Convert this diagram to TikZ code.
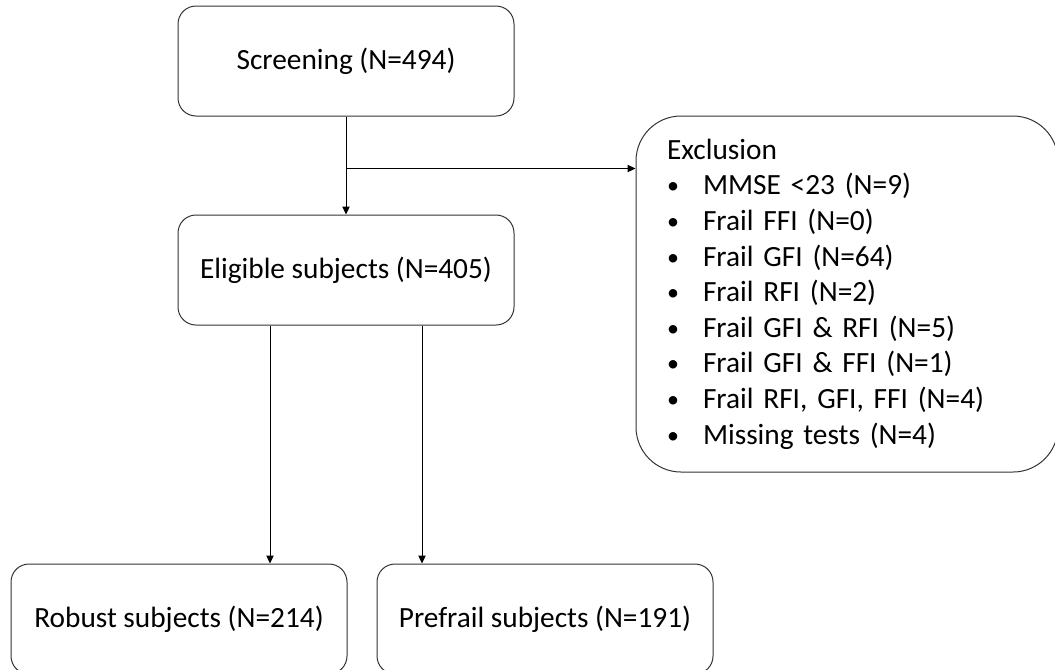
\documentclass[tikz,border=0pt]{standalone}
\usepackage{fontspec}
\setmainfont{Carlito}
\usetikzlibrary{arrows.meta, calc}
\newcommand{\exclitem}{\makebox[27pt][l]{\raisebox{0.8pt}{\fontsize{18}{18}\selectfont\textbullet}}}

\begin{document}
\begin{tikzpicture}[x=0.75pt, y=-0.75pt]
      \tikzset{flowbox/.style={draw=black!80,
          line width=0.75pt,
          rounded corners=13.5pt,
          minimum width=252pt,
          minimum height=82.5pt,
          inner sep=0pt,
          font=\fontsize{22}{26.7}\selectfont},
        exclbox/.style={flowbox,
          rounded corners=33.75pt,
          minimum width=316.5pt,
          minimum height=267pt,
          text width=270pt,
          align=left},
        flowarrow/.style={draw=black, line width=0.75pt,
          -{Triangle[length=6pt,width=5.5pt]}}
      }
      \useasboundingbox (0,0) rectangle (1055,669);
      \node [flowbox] (scr) at (346,61) {Screening (N=494)};
      \node [flowbox] (elig) at (346,270) {Eligible subjects (N=405)};
      \node [exclbox] (excl) at (847,294) {Exclusion\\
        \exclitem MMSE <23 (N=9)\\
        \exclitem Frail FFI (N=0)\\
        \exclitem Frail GFI (N=64)\\
        \exclitem Frail RFI (N=2)\\
        \exclitem Frail GFI \& RFI (N=5)\\
        \exclitem Frail GFI \& FFI (N=1)\\
        \exclitem Frail RFI, GFI, FFI (N=4)\\
        \exclitem Missing tests (N=4)};
      \node [flowbox] (rob) at (179,619) {Robust subjects (N=214)};
      \node [flowbox] (pre) at (545,619) {Prefrail subjects (N=191)};
      \coordinate (branch) at ($(scr.south)+(0,52)$);
      \draw [flowarrow] (scr.south)--(elig.north);
      \draw [flowarrow] (branch)--(branch -| excl.west);
      \draw [flowarrow] ([xshift=-57pt]elig.south)--([xshift=-57pt]elig.south |- rob.north);
      \draw [flowarrow] ([xshift=57pt]elig.south)--([xshift=57pt]elig.south |- pre.north);
\end{tikzpicture}
\end{document}
